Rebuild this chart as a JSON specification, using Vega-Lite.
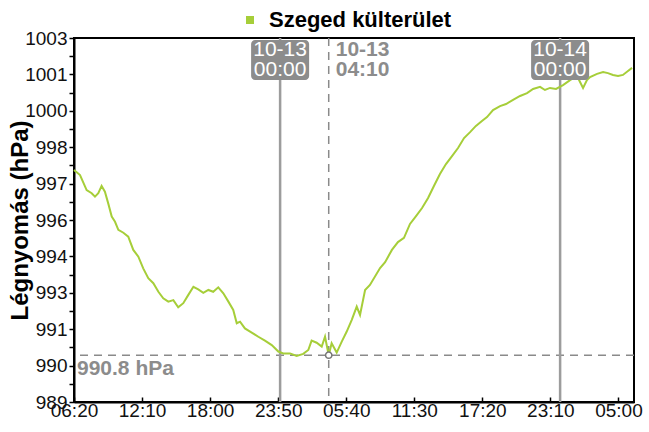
{
  "$schema": "https://vega.github.io/schema/vega-lite/v6.json",
  "width": 560,
  "height": 364,
  "autosize": {"type": "none"},
  "padding": {"left": 74, "top": 38, "right": 15, "bottom": 30},
  "background": "white",
  "config": {
    "font": "Liberation Sans",
    "view": {"stroke": "black", "strokeWidth": 2},
    "text": {"lineBreak": "\n"}
  },
  "resolve": {"axis": {"y": "independent"}},
  "datasets": {
    "pressure": [
      {"t": "2023-10-12T06:20", "p": 997.92},
      {"t": "2023-10-12T06:51", "p": 997.73},
      {"t": "2023-10-12T07:25", "p": 997.15},
      {"t": "2023-10-12T07:51", "p": 997.03},
      {"t": "2023-10-12T08:08", "p": 996.90},
      {"t": "2023-10-12T08:25", "p": 997.03},
      {"t": "2023-10-12T08:42", "p": 997.31},
      {"t": "2023-10-12T08:59", "p": 997.09},
      {"t": "2023-10-12T09:16", "p": 996.64},
      {"t": "2023-10-12T09:34", "p": 996.13},
      {"t": "2023-10-12T09:51", "p": 995.93},
      {"t": "2023-10-12T10:08", "p": 995.62},
      {"t": "2023-10-12T10:34", "p": 995.51},
      {"t": "2023-10-12T10:59", "p": 995.36},
      {"t": "2023-10-12T11:25", "p": 994.85},
      {"t": "2023-10-12T11:51", "p": 994.59},
      {"t": "2023-10-12T12:16", "p": 994.14},
      {"t": "2023-10-12T12:42", "p": 993.76},
      {"t": "2023-10-12T13:08", "p": 993.57},
      {"t": "2023-10-12T13:34", "p": 993.24},
      {"t": "2023-10-12T13:59", "p": 992.99},
      {"t": "2023-10-12T14:25", "p": 992.86},
      {"t": "2023-10-12T14:51", "p": 992.92},
      {"t": "2023-10-12T15:16", "p": 992.64},
      {"t": "2023-10-12T15:42", "p": 992.80},
      {"t": "2023-10-12T16:08", "p": 993.12},
      {"t": "2023-10-12T16:34", "p": 993.43},
      {"t": "2023-10-12T16:59", "p": 993.33},
      {"t": "2023-10-12T17:25", "p": 993.20},
      {"t": "2023-10-12T17:51", "p": 993.31},
      {"t": "2023-10-12T18:16", "p": 993.24},
      {"t": "2023-10-12T18:42", "p": 993.41},
      {"t": "2023-10-12T19:08", "p": 993.18},
      {"t": "2023-10-12T19:34", "p": 992.86},
      {"t": "2023-10-12T19:59", "p": 992.54},
      {"t": "2023-10-12T20:17", "p": 992.03},
      {"t": "2023-10-12T20:34", "p": 992.09},
      {"t": "2023-10-12T20:59", "p": 991.83},
      {"t": "2023-10-12T21:34", "p": 991.67},
      {"t": "2023-10-12T22:08", "p": 991.51},
      {"t": "2023-10-12T22:42", "p": 991.36},
      {"t": "2023-10-12T23:17", "p": 991.19},
      {"t": "2023-10-12T23:51", "p": 990.94},
      {"t": "2023-10-13T00:16", "p": 990.87},
      {"t": "2023-10-13T00:51", "p": 990.87},
      {"t": "2023-10-13T01:25", "p": 990.77},
      {"t": "2023-10-13T01:59", "p": 990.85},
      {"t": "2023-10-13T02:25", "p": 991.00},
      {"t": "2023-10-13T02:42", "p": 991.36},
      {"t": "2023-10-13T03:08", "p": 991.28},
      {"t": "2023-10-13T03:34", "p": 991.13},
      {"t": "2023-10-13T03:51", "p": 991.51},
      {"t": "2023-10-13T04:10", "p": 990.80},
      {"t": "2023-10-13T04:25", "p": 991.26},
      {"t": "2023-10-13T04:51", "p": 990.90},
      {"t": "2023-10-13T05:17", "p": 991.32},
      {"t": "2023-10-13T05:42", "p": 991.70},
      {"t": "2023-10-13T06:08", "p": 992.15},
      {"t": "2023-10-13T06:34", "p": 992.67},
      {"t": "2023-10-13T06:51", "p": 992.35},
      {"t": "2023-10-13T07:17", "p": 993.31},
      {"t": "2023-10-13T07:42", "p": 993.50},
      {"t": "2023-10-13T08:34", "p": 994.15},
      {"t": "2023-10-13T09:00", "p": 994.38},
      {"t": "2023-10-13T09:35", "p": 994.85},
      {"t": "2023-10-13T10:06", "p": 995.15},
      {"t": "2023-10-13T10:37", "p": 995.31},
      {"t": "2023-10-13T11:08", "p": 995.85},
      {"t": "2023-10-13T11:39", "p": 996.15},
      {"t": "2023-10-13T12:10", "p": 996.46},
      {"t": "2023-10-13T12:41", "p": 996.85},
      {"t": "2023-10-13T13:11", "p": 997.31},
      {"t": "2023-10-13T13:42", "p": 997.77},
      {"t": "2023-10-13T14:13", "p": 998.15},
      {"t": "2023-10-13T14:44", "p": 998.46},
      {"t": "2023-10-13T15:15", "p": 998.77},
      {"t": "2023-10-13T15:46", "p": 999.15},
      {"t": "2023-10-13T16:17", "p": 999.38},
      {"t": "2023-10-13T16:47", "p": 999.62},
      {"t": "2023-10-13T17:18", "p": 999.81},
      {"t": "2023-10-13T17:44", "p": 999.96},
      {"t": "2023-10-13T18:15", "p": 1000.23},
      {"t": "2023-10-13T18:51", "p": 1000.38},
      {"t": "2023-10-13T19:22", "p": 1000.46},
      {"t": "2023-10-13T19:58", "p": 1000.62},
      {"t": "2023-10-13T20:34", "p": 1000.77},
      {"t": "2023-10-13T21:10", "p": 1000.88},
      {"t": "2023-10-13T21:41", "p": 1001.04},
      {"t": "2023-10-13T22:17", "p": 1001.12},
      {"t": "2023-10-13T22:42", "p": 1001.00},
      {"t": "2023-10-13T23:08", "p": 1001.08},
      {"t": "2023-10-13T23:39", "p": 1001.04},
      {"t": "2023-10-14T00:15", "p": 1001.19},
      {"t": "2023-10-14T00:51", "p": 1001.38},
      {"t": "2023-10-14T01:27", "p": 1001.54},
      {"t": "2023-10-14T01:58", "p": 1001.08},
      {"t": "2023-10-14T02:18", "p": 1001.38},
      {"t": "2023-10-14T02:34", "p": 1001.50},
      {"t": "2023-10-14T03:10", "p": 1001.62},
      {"t": "2023-10-14T03:41", "p": 1001.69},
      {"t": "2023-10-14T04:06", "p": 1001.65},
      {"t": "2023-10-14T04:32", "p": 1001.58},
      {"t": "2023-10-14T04:58", "p": 1001.54},
      {"t": "2023-10-14T05:23", "p": 1001.58},
      {"t": "2023-10-14T05:49", "p": 1001.73},
      {"t": "2023-10-14T06:10", "p": 1001.85}
    ],
    "days": [
      {"t": "2023-10-13T00:00", "label": "10-13\n00:00"},
      {"t": "2023-10-14T00:00", "label": "10-14\n00:00"}
    ],
    "cursor": [
      {"t": "2023-10-13T04:10", "p": 990.8, "label": "10-13\n04:10", "plabel": "990.8 hPa", "start": "2023-10-12T06:20"}
    ]
  },
  "layer": [
    {
      "data": {"name": "cursor"},
      "mark": {"type": "rule", "color": "#8a8a8a", "strokeWidth": 1.5, "strokeDash": [8, 6]},
      "encoding": {
        "y": {
          "field": "p",
          "type": "quantitative",
          "axis": {
            "orient": "left",
            "title": null,
            "values": [989.7, 991.1, 992.5, 993.9, 995.3, 996.7, 998.1, 999.5, 1000.9, 1002.3],
            "labels": false,
            "domain": false,
            "grid": false,
            "tickSize": 5,
            "tickColor": "black",
            "tickWidth": 1.5
          }
        }
      }
    },
    {
      "data": {"name": "cursor"},
      "mark": {"type": "rule", "color": "#8a8a8a", "strokeWidth": 1.5, "strokeDash": [8, 6]},
      "encoding": {"x": {"field": "t", "type": "temporal"}}
    },
    {
      "data": {"name": "days"},
      "mark": {"type": "rule", "color": "#9c9c9c", "strokeWidth": 2.5},
      "encoding": {"x": {"field": "t", "type": "temporal"}}
    },
    {
      "data": {"name": "pressure"},
      "mark": {"type": "line", "strokeWidth": 2},
      "encoding": {
        "x": {
          "field": "t",
          "type": "temporal",
          "scale": {
            "domain": [
              {"year": 2023, "month": 10, "date": 12, "hours": 6, "minutes": 20},
              {"year": 2023, "month": 10, "date": 14, "hours": 6, "minutes": 20}
            ],
            "nice": false
          },
          "axis": {
            "title": null,
            "values": [
              {"year": 2023, "month": 10, "date": 12, "hours": 6, "minutes": 20},
              {"year": 2023, "month": 10, "date": 12, "hours": 12, "minutes": 10},
              {"year": 2023, "month": 10, "date": 12, "hours": 18, "minutes": 0},
              {"year": 2023, "month": 10, "date": 12, "hours": 23, "minutes": 50},
              {"year": 2023, "month": 10, "date": 13, "hours": 5, "minutes": 40},
              {"year": 2023, "month": 10, "date": 13, "hours": 11, "minutes": 30},
              {"year": 2023, "month": 10, "date": 13, "hours": 17, "minutes": 20},
              {"year": 2023, "month": 10, "date": 13, "hours": 23, "minutes": 10},
              {"year": 2023, "month": 10, "date": 14, "hours": 5, "minutes": 0}
            ],
            "format": "%H:%M",
            "grid": false,
            "labelFontSize": 19,
            "labelColor": "#111111",
            "labelPadding": 4,
            "labelOverlap": false,
            "labelFlush": false,
            "tickSize": -5,
            "tickColor": "black",
            "tickWidth": 1.5,
            "domainColor": "black",
            "domainWidth": 2
          }
        },
        "y": {
          "field": "p",
          "type": "quantitative",
          "scale": {"domain": [989, 1003], "nice": false, "zero": false},
          "axis": {
            "orient": "left",
            "title": "Légnyomás (hPa)",
            "titleFontSize": 24,
            "titleFontWeight": "bold",
            "titleColor": "black",
            "titleAngle": -90,
            "titleX": -54,
            "titleY": 182,
            "titleBaseline": "middle",
            "titleAlign": "center",
            "values": [989, 990.4, 991.8, 993.2, 994.6, 996, 997.4, 998.8, 1000.2, 1001.6, 1003],
            "labelExpr": "'' + floor(datum.value + 0.001)",
            "grid": false,
            "labelFontSize": 19,
            "labelColor": "#111111",
            "labelPadding": 2,
            "labelOverlap": false,
            "labelFlush": false,
            "tickSize": 5,
            "tickColor": "black",
            "tickWidth": 1.5,
            "domainColor": "black",
            "domainWidth": 2
          }
        },
        "color": {
          "datum": "Szeged külterület",
          "type": "nominal",
          "scale": {"range": ["#a6ce39"]},
          "legend": {
            "title": null,
            "orient": "none",
            "legendX": 165,
            "legendY": -29,
            "symbolType": "square",
            "symbolSize": 64,
            "symbolFillColor": "#a6ce39",
            "symbolStrokeWidth": 0,
            "labelFontSize": 22,
            "labelFontWeight": "bold",
            "labelColor": "black",
            "labelOffset": 8,
            "labelLimit": 400
          }
        }
      }
    },
    {
      "data": {"name": "days"},
      "mark": {"type": "rect", "color": "#8c8c8c", "cornerRadius": 4, "xOffset": -29, "x2Offset": 29, "yOffset": 2, "y2Offset": 42},
      "encoding": {
        "x": {"field": "t", "type": "temporal"},
        "x2": {"field": "t"},
        "y": {"datum": 1003, "type": "quantitative", "axis": null},
        "y2": {"datum": 1003}
      }
    },
    {
      "data": {"name": "days"},
      "mark": {"type": "text", "color": "white", "fontSize": 21, "lineHeight": 19.5, "align": "center", "baseline": "middle"},
      "encoding": {
        "x": {"field": "t", "type": "temporal"},
        "y": {"datum": 1002.52, "type": "quantitative", "axis": null},
        "text": {"field": "label"}
      }
    },
    {
      "data": {"name": "cursor"},
      "mark": {"type": "text", "color": "#8c8c8c", "fontSize": 21, "fontWeight": "bold", "lineHeight": 19.5, "align": "left", "baseline": "middle", "dx": 7},
      "encoding": {
        "x": {"field": "t", "type": "temporal"},
        "y": {"datum": 1002.52, "type": "quantitative", "axis": null},
        "text": {"field": "label"}
      }
    },
    {
      "data": {"name": "cursor"},
      "mark": {"type": "text", "color": "#8c8c8c", "fontSize": 21, "fontWeight": "bold", "align": "left", "baseline": "top", "dx": 3, "dy": 3},
      "encoding": {
        "x": {"field": "start", "type": "temporal"},
        "y": {"field": "p", "type": "quantitative", "axis": null},
        "text": {"field": "plabel"}
      }
    },
    {
      "data": {"name": "cursor"},
      "mark": {"type": "point", "shape": "circle", "size": 40, "filled": true, "fill": "white", "stroke": "#777777", "strokeWidth": 1.5, "opacity": 1},
      "encoding": {
        "x": {"field": "t", "type": "temporal"},
        "y": {"field": "p", "type": "quantitative", "axis": null}
      }
    }
  ]
}
